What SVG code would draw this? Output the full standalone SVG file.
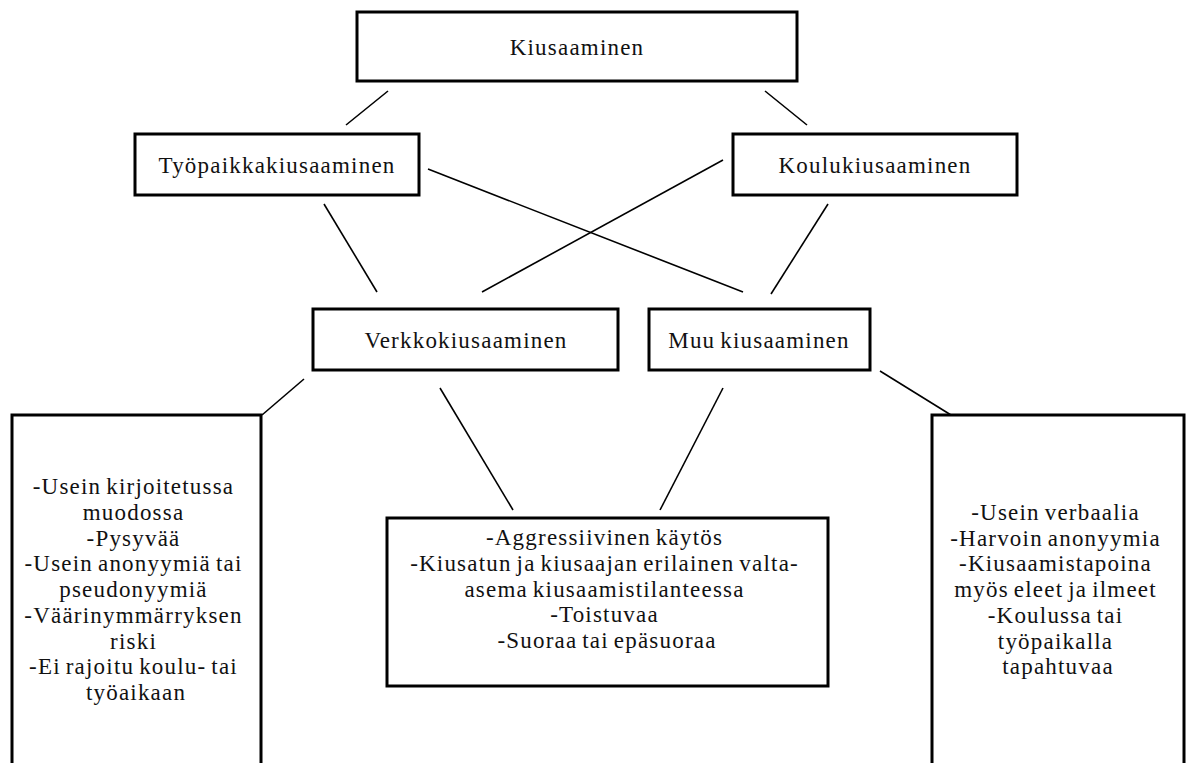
<svg xmlns="http://www.w3.org/2000/svg" width="1186" height="763" viewBox="0 0 1186 763">
<style>
.box{fill:#fff;stroke:#000;stroke-width:3}
.lbl{font-family:"Liberation Serif","Times New Roman",serif;font-size:23px;letter-spacing:1.2px;word-spacing:-2px;fill:#111;text-anchor:middle}
.con line{stroke:#000;stroke-width:1.6}
</style>
<rect width="1186" height="763" fill="#fff"/>
<g id="connectors" class="con">
<line x1="388" y1="91" x2="346" y2="125"/>
<line x1="765" y1="91" x2="807" y2="125"/>
<line x1="324" y1="204" x2="377" y2="292"/>
<line x1="428" y1="169" x2="743" y2="292"/>
<line x1="723" y1="160" x2="482" y2="292"/>
<line x1="828" y1="204" x2="771" y2="294"/>
<line x1="304" y1="379" x2="262" y2="415"/>
<line x1="440" y1="388" x2="513" y2="510"/>
<line x1="723" y1="388" x2="660" y2="510"/>
<line x1="880" y1="371" x2="951" y2="415"/>
</g>
<g id="kiusaaminen">
<rect class="box" x="357" y="12" width="440" height="69"/>
<text class="lbl" x="577" y="55">Kiusaaminen</text>
</g>
<g id="tyopaikkakiusaaminen">
<rect class="box" x="135" y="134" width="284" height="61"/>
<text class="lbl" x="277" y="173">Työpaikkakiusaaminen</text>
</g>
<g id="koulukiusaaminen">
<rect class="box" x="733" y="134" width="284" height="61"/>
<text class="lbl" x="875" y="173">Koulukiusaaminen</text>
</g>
<g id="verkkokiusaaminen">
<rect class="box" x="313" y="309" width="305" height="61"/>
<text class="lbl" x="466" y="348">Verkkokiusaaminen</text>
</g>
<g id="muukiusaaminen">
<rect class="box" x="649" y="309" width="221" height="61"/>
<text class="lbl" x="759" y="348">Muu kiusaaminen</text>
</g>
<g id="verkko-ominaisuudet">
<rect class="box" x="12" y="415" width="249" height="380"/>
<text class="lbl" y="494">
<tspan x="136">-Usein kirjoitetussa</tspan>
<tspan x="136" dy="25.75">muodossa</tspan>
<tspan x="136" dy="25.75">-Pysyvää</tspan>
<tspan x="136" dy="25.75">-Usein anonyymiä tai</tspan>
<tspan x="136" dy="25.75">pseudonyymiä</tspan>
<tspan x="136" dy="25.75">-Väärinymmärryksen</tspan>
<tspan x="136" dy="25.75">riski</tspan>
<tspan x="136" dy="25.75">-Ei rajoitu koulu- tai</tspan>
<tspan x="136" dy="25.75">työaikaan</tspan>
</text>
</g>
<g id="yhteiset-ominaisuudet">
<rect class="box" x="387" y="518" width="441" height="168"/>
<text class="lbl" y="545">
<tspan x="607">-Aggressiivinen käytös</tspan>
<tspan x="607" dy="25.8">-Kiusatun ja kiusaajan erilainen valta-</tspan>
<tspan x="607" dy="25.8">asema kiusaamistilanteessa</tspan>
<tspan x="607" dy="25.8">-Toistuvaa</tspan>
<tspan x="607" dy="25.8">-Suoraa tai epäsuoraa</tspan>
</text>
</g>
<g id="muu-ominaisuudet">
<rect class="box" x="932" y="415" width="252" height="380"/>
<text class="lbl" y="520">
<tspan x="1058">-Usein verbaalia</tspan>
<tspan x="1058" dy="25.7">-Harvoin anonyymia</tspan>
<tspan x="1058" dy="25.7">-Kiusaamistapoina</tspan>
<tspan x="1058" dy="25.7">myös eleet ja ilmeet</tspan>
<tspan x="1058" dy="25.7">-Koulussa tai</tspan>
<tspan x="1058" dy="25.7">työpaikalla</tspan>
<tspan x="1058" dy="25.7">tapahtuvaa</tspan>
</text>
</g>
</svg>
